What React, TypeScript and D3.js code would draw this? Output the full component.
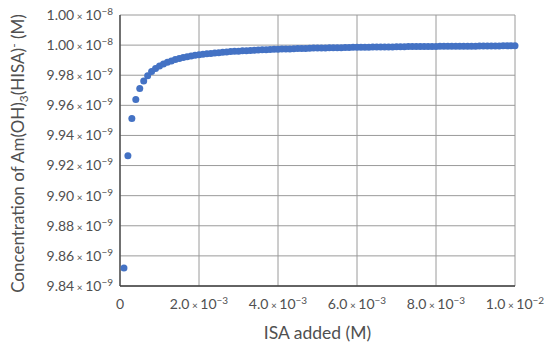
import React from 'react';
import * as d3 from 'd3';

const width = 547;
const height = 347;
const margin = { top: 15, right: 32, bottom: 61, left: 120 };

// ISA added, in units of 1e-4 M
const isaAdded = [
  1, 2, 3, 4, 5, 6, 7, 8, 9, 10, 11, 12, 13, 14, 15, 16, 17, 18, 19, 20,
  21, 22, 23, 24, 25, 26, 27, 28, 29, 30, 31, 32, 33, 34, 35, 36, 37, 38, 39, 40,
  41, 42, 43, 44, 45, 46, 47, 48, 49, 50, 51, 52, 53, 54, 55, 56, 57, 58, 59, 60,
  61, 62, 63, 64, 65, 66, 67, 68, 69, 70, 71, 72, 73, 74, 75, 76, 77, 78, 79, 80,
  81, 82, 83, 84, 85, 86, 87, 88, 89, 90, 91, 92, 93, 94, 95, 96, 97, 98, 99, 100,
];

// Am(OH)3(HISA)- concentration, in units of 1e-9 M
const concentration = [
  9.852, 9.9265, 9.9513, 9.9638, 9.9712, 9.9762, 9.9797, 9.9824, 9.9844, 9.9861,
  9.9875, 9.9886, 9.9895, 9.9904, 9.9911, 9.9917, 9.9922, 9.9927, 9.9932, 9.9936,
  9.9939, 9.9942, 9.9945, 9.9948, 9.995, 9.9953, 9.9955, 9.9957, 9.9959, 9.996,
  9.9962, 9.9963, 9.9965, 9.9966, 9.9967, 9.9969, 9.997, 9.9971, 9.9972, 9.9973,
  9.9974, 9.9974, 9.9975, 9.9976, 9.9977, 9.9978, 9.9978, 9.9979, 9.998, 9.998,
  9.9981, 9.9981, 9.9982, 9.9982, 9.9983, 9.9983, 9.9984, 9.9984, 9.9985, 9.9985,
  9.9986, 9.9986, 9.9986, 9.9987, 9.9987, 9.9987, 9.9988, 9.9988, 9.9988, 9.9989,
  9.9989, 9.9989, 9.999, 9.999, 9.999, 9.999, 9.9991, 9.9991, 9.9991, 9.9991,
  9.9992, 9.9992, 9.9992, 9.9992, 9.9992, 9.9993, 9.9993, 9.9993, 9.9993, 9.9993,
  9.9994, 9.9994, 9.9994, 9.9994, 9.9994, 9.9994, 9.9995, 9.9995, 9.9995, 9.9995,
];

const yTicks = [9.84, 9.86, 9.88, 9.9, 9.92, 9.94, 9.96, 9.98, 10.0, 10.02];
const yTickMantissa = ['9.84', '9.86', '9.88', '9.90', '9.92', '9.94', '9.96', '9.98', '1.00', '1.00'];
const yTickExponent = ['−9', '−9', '−9', '−9', '−9', '−9', '−9', '−9', '−8', '−8'];

const xTicks = [0, 20, 40, 60, 80, 100];
const xTickMantissa = ['0', '2.0', '4.0', '6.0', '8.0', '1.0'];
const xTickExponent = ['', '−3', '−3', '−3', '−3', '−2'];

const font = 'Lato, "Open Sans", sans-serif';
const textColor = '#505050';

function SciLabel({ m, e }: { m: string; e: string }) {
  if (!e) return <>{m}</>;
  return (
    <>
      <tspan>{m}</tspan>
      <tspan fontSize={10}>{' × '}</tspan>
      <tspan>10</tspan>
      <tspan fontSize={10} dy={-5}>{e}</tspan>
    </>
  );
}

export default function App() {
  const x = d3.scaleLinear().domain([0, 100]).range([margin.left, width - margin.right]);
  const y = d3.scaleLinear().domain([9.84, 10.02]).range([height - margin.bottom, margin.top]);
  const [x0, x1] = x.range();
  const [y0, y1] = y.range();

  return (
    <svg width={width} height={height} style={{ position: 'absolute', left: 0, top: 0, background: '#fff' }} fontFamily={font}>
      {/* gridlines */}
      {yTicks.map((t, i) => (
        <line key={'gy' + i} x1={x0} x2={x1} y1={y(t)} y2={y(t)} stroke="#9a9a9a" strokeWidth={1} />
      ))}
      {xTicks.map((t, i) => (
        <line key={'gx' + i} x1={x(t)} x2={x(t)} y1={y0} y2={y1} stroke="#9a9a9a" strokeWidth={1} />
      ))}
      {/* axes */}
      <line x1={x0} x2={x0} y1={y0} y2={y1} stroke="#404040" strokeWidth={1.3} />
      <line x1={x0} x2={x1} y1={y0} y2={y0} stroke="#404040" strokeWidth={1.3} />

      {/* points */}
      {isaAdded.map((d, i) => (
        <circle key={i} cx={x(d)} cy={y(concentration[i])} r={3.5} fill="#4472C4" />
      ))}

      {/* y tick labels */}
      {yTicks.map((t, i) => (
        <text key={'ty' + i} x={x0 - 7} y={y(t)} dy="0.35em" textAnchor="end" fontSize={14} fill={textColor}>
          <SciLabel m={yTickMantissa[i]} e={yTickExponent[i]} />
        </text>
      ))}
      {/* x tick labels */}
      {xTicks.map((t, i) => (
        <text key={'tx' + i} x={x(t)} y={y0 + 23} textAnchor="middle" fontSize={14} fill={textColor}>
          <SciLabel m={xTickMantissa[i]} e={xTickExponent[i]} />
        </text>
      ))}

      {/* axis titles */}
      <text x={(x0 + x1) / 2} y={339} textAnchor="middle" fontSize={17.5} fill={textColor}>
        ISA added (M)
      </text>
      <text transform={`translate(24, ${(y0 + y1) / 2 + 3}) rotate(-90)`} textAnchor="middle" fontSize={17} fill={textColor}>
        <tspan>Concentration of Am(OH)</tspan>
        <tspan fontSize={12} dy={4}>3</tspan>
        <tspan dy={-4}>(HISA)</tspan>
        <tspan fontSize={12} dy={-6}>-</tspan>
        <tspan dy={6}>{' (M)'}</tspan>
      </text>
    </svg>
  );
}
